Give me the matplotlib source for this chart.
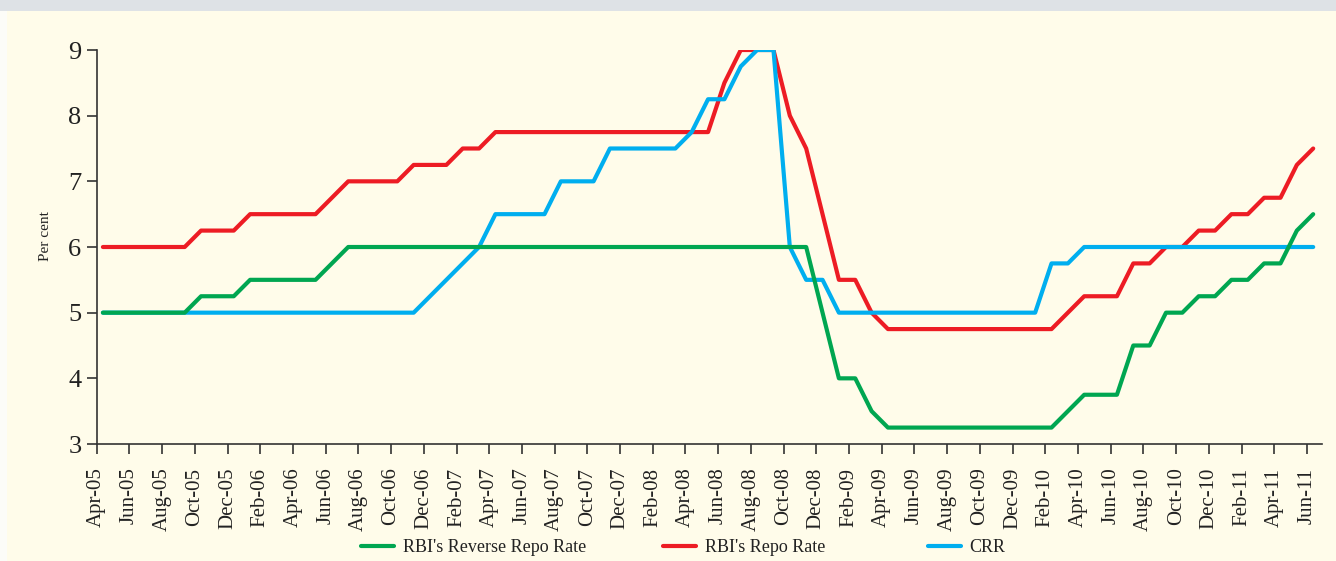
import matplotlib.pyplot as plt
import numpy as np
import pandas as pd

months = pd.date_range('2005-04-01', '2011-06-01', freq='MS').strftime('%b-%y').tolist()

reverse_repo = ([5.0] * 6 + [5.25] * 3 + [5.5] * 5 + [5.75] + [6.0] * 29 + [5.0]
                + [4.0] * 2 + [3.5] + [3.25] * 11 + [3.5] + [3.75] * 3 + [4.5] * 2
                + [5.0] * 2 + [5.25] * 2 + [5.5] * 2 + [5.75] * 2 + [6.25, 6.5])
repo = ([6.0] * 6 + [6.25] * 3 + [6.5] * 5 + [6.75] + [7.0] * 4 + [7.25] * 3
        + [7.5] * 2 + [7.75] * 14 + [8.5] + [9.0] * 3 + [8.0, 7.5, 6.5] + [5.5] * 2
        + [5.0] + [4.75] * 11 + [5.0] + [5.25] * 3 + [5.75] * 2 + [6.0] * 2
        + [6.25] * 2 + [6.5] * 2 + [6.75] * 2 + [7.25, 7.5])
crr = ([5.0] * 20 + [5.25, 5.5, 5.75, 6.0] + [6.5] * 4 + [7.0] * 3 + [7.5] * 5
       + [7.75] + [8.25] * 2 + [8.75] + [9.0] * 2 + [6.0] + [5.5] * 2 + [5.0] * 13
       + [5.75] * 2 + [6.0] * 15)

series_names = ["RBI's Reverse Repo Rate", "RBI's Repo Rate", "CRR"]
colors = ['#00A651', '#ED1C24', '#00AEEF']

cream = '#FFFCEA'
plt.rcParams['font.family'] = ['Liberation Serif', 'DejaVu Serif']

fig = plt.figure(figsize=(13.36, 5.61), dpi=100, facecolor=cream)
# header strip and left margin
fig.patches.append(plt.Rectangle((0, 1 - 11 / 561), 1, 11 / 561, transform=fig.transFigure,
                                 facecolor='#DEE2E6', edgecolor='none', zorder=0))
fig.patches.append(plt.Rectangle((0, 0), 7 / 1336, 1 - 11 / 561, transform=fig.transFigure,
                                 facecolor='#FCFCF8', edgecolor='none', zorder=0))

ax = fig.add_axes([96.7 / 1336, 1 - 444 / 561, (1321.7 - 96.7) / 1336, (444 - 50) / 561])
ax.set_facecolor(cream)

x = np.arange(len(months)) + 0.38
l_repo, = ax.plot(x, repo, color=colors[1], lw=3, zorder=2, solid_capstyle='round')
l_crr, = ax.plot(x, crr, color=colors[2], lw=3, zorder=3, solid_capstyle='round')
l_rev, = ax.plot(x, reverse_repo, color=colors[0], lw=3, zorder=4, solid_capstyle='round')

ax.set_xlim(0, 74.9)
ax.set_ylim(3, 9)
ax.set_yticks(range(3, 10))
ax.set_xticks(range(0, len(months), 2))
ax.set_xticklabels(months[::2], rotation=90)

for s in ['top', 'right']:
    ax.spines[s].set_visible(False)
for s in ['left', 'bottom']:
    ax.spines[s].set_color('#333333')
    ax.spines[s].set_linewidth(1.2)
ax.tick_params(axis='y', length=7, width=1.2, color='#333333', labelsize=19, pad=4,
               labelcolor='#222222')
ax.tick_params(axis='x', length=7, width=1.2, color='#333333', labelsize=15, pad=10,
               labelcolor='#222222')

fig.text(45.7 / 1336, 1 - 236 / 561, 'Per cent', rotation=90, ha='center', va='center',
         fontsize=11, color='#222222')

leg_x = [361, 663, 928]
for line, name, lx in zip([l_rev, l_repo, l_crr], series_names, leg_x):
    fig.legend(handles=[line], labels=[name], loc='center left',
               bbox_to_anchor=(lx / 1336, 1 - 548 / 561), frameon=False, fontsize=13,
               handlelength=1.8, handletextpad=0.5, borderpad=0, borderaxespad=0,
               labelcolor='#222222')

fig.savefig('out.png', dpi=100, facecolor=cream)
